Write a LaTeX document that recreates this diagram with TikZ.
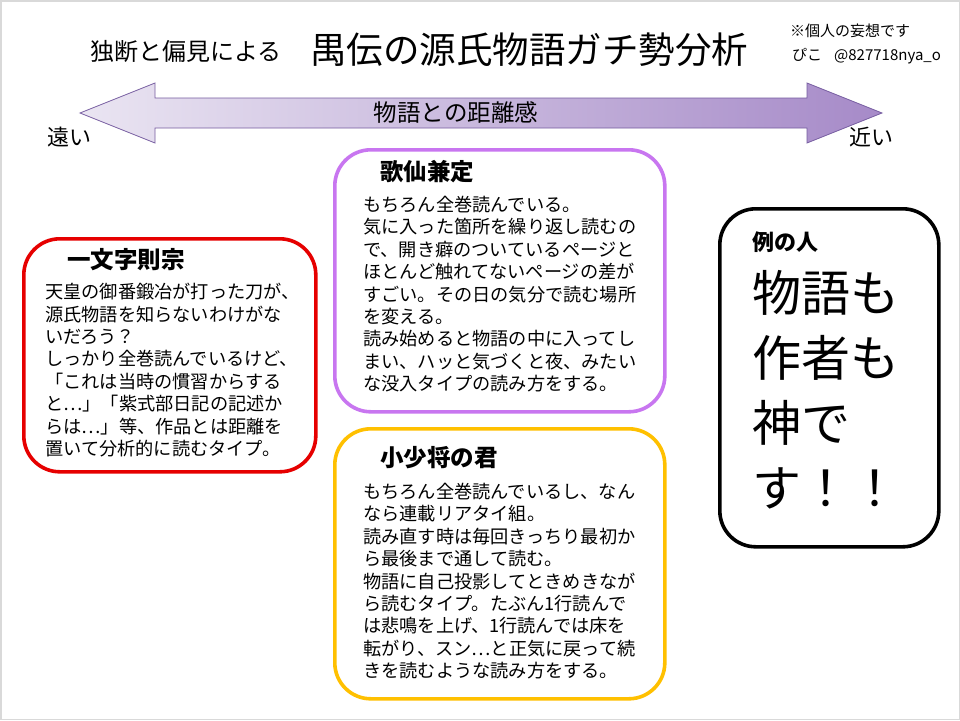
\documentclass[tikz,border=0pt]{standalone}
\usepackage{fontspec}
\setmainfont{Noto Sans CJK JP}
\definecolor{redc}{RGB}{230,0,0}
\definecolor{purc}{RGB}{200,118,240}
\definecolor{goldc}{RGB}{255,192,0}
\definecolor{arrowL}{RGB}{234,229,242}
\definecolor{arrowR}{RGB}{166,138,200}
\definecolor{arrowE}{RGB}{118,92,160}
\begin{document}
\begin{tikzpicture}[x=1pt,y=-1pt,
  card/.style={draw, line width=3.6pt, rounded corners=36pt, fill=white, anchor=north west, inner sep=0pt},
  body/.style={anchor=north west, inner sep=0pt, align=left, font=\fontsize{18.2}{22.4}\selectfont},
  ttl/.style={anchor=west, inner sep=0pt, font=\fontsize{23.5}{28}\selectfont\bfseries},
  plain/.style={anchor=west, inner sep=0pt}]
\fill[white] (0,0) rectangle (960,720);
\draw[black!15, line width=1.5pt] (0.75,0.75) rectangle (959.25,719.25);
\useasboundingbox (0,0) rectangle (960,720);

% header
\node[plain, font=\fontsize{24}{28}\selectfont] (sub) at (90,52) {独断と偏見による};
\node[plain, font=\fontsize{36.5}{40}\selectfont] (title) at (310,50) {禺伝の源氏物語ガチ勢分析};
\node[plain, font=\fontsize{15}{18}\selectfont] (note) at (790,31) {※個人の妄想です};
\node[plain, font=\fontsize{15}{18}\selectfont] (author) at (792,56) {ぴこ\hspace{12pt}@827718nya\_o};

% axis arrow
\path[draw=arrowE, line width=0.8pt, left color=arrowL, right color=arrowR]
  (80,113) -- (155,83) -- (155,98) -- (807,98) -- (807,83) -- (882,113)
  -- (807,143) -- (807,128) -- (155,128) -- (155,143) -- cycle;
\node[font=\fontsize{23.5}{28}\selectfont, inner sep=0pt] (axis) at (456,113) {物語との距離感};
\node[font=\fontsize{22}{26}\selectfont, inner sep=0pt] (far) at (69,137) {遠い};
\node[font=\fontsize{22}{26}\selectfont, inner sep=0pt] (near) at (871,137) {近い};

% box 1
\node[card, draw=redc, minimum width=292pt, minimum height=233pt] (b1) at (22,237) {};
\node[ttl] (t1) at (67,260) {一文字則宗};
\node[body] (x1) at (45,283) {天皇の御番鍛冶が打った刀が、\\源氏物語を知らないわけがな\\いだろう？\\しっかり全巻読んでいるけど、\\「これは当時の慣習からする\\と…」「紫式部日記の記述か\\らは…」等、作品とは距離を\\置いて分析的に読むタイプ。};

% box 2
\node[card, draw=purc, minimum width=330pt, minimum height=262pt] (b2) at (333,148) {};
\node[ttl] (t2) at (380,172) {歌仙兼定};
\node[body] (x2) at (363,196) {もちろん全巻読んでいる。\\気に入った箇所を繰り返し読むの\\で、開き癖のついているページと\\ほとんど触れてないページの差が\\すごい。その日の気分で読む場所\\を変える。\\読み始めると物語の中に入ってし\\まい、ハッと気づくと夜、みたい\\な没入タイプの読み方をする。};

% box 3
\node[card, draw=goldc, minimum width=330pt, minimum height=270pt] (b3) at (333,427) {};
\node[ttl] (t3) at (380,458) {小少将の君};
\node[body] (x3) at (363,483) {もちろん全巻読んでいるし、なん\\なら連載リアタイ組。\\読み直す時は毎回きっちり最初か\\ら最後まで通して読む。\\物語に自己投影してときめきなが\\ら読むタイプ。たぶん1行読んで\\は悲鳴を上げ、1行読んでは床を\\転がり、スン…と正気に戻って続\\きを読むような読み方をする。};

% box 4
\node[card, draw=black, minimum width=219pt, minimum height=338pt] (b4) at (718,207) {};
\node[plain, font=\fontsize{22}{26}\selectfont\bfseries] (t4) at (752,242) {例の人};
\node[anchor=north west, inner sep=0pt, align=left, font=\fontsize{49}{65}\selectfont] (x4) at (752,270) {物語も\\作者も\\神で\\す！！};
\end{tikzpicture}
\end{document}
